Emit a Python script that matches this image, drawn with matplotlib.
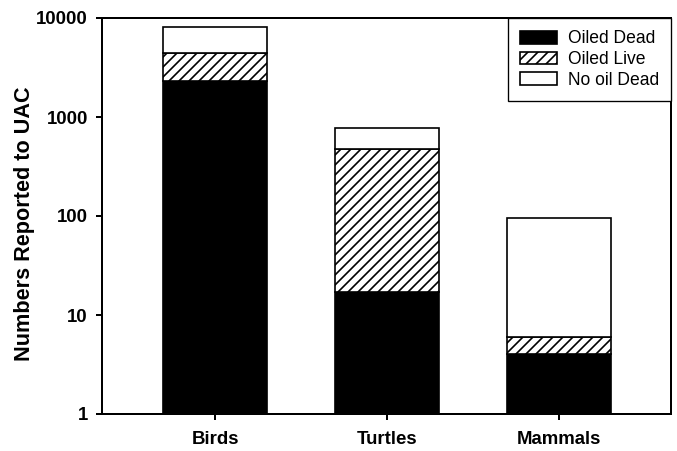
import matplotlib
matplotlib.use("Agg")
import matplotlib.pyplot as plt
from matplotlib.ticker import FixedLocator, FixedFormatter, NullLocator

groups = ["Birds", "Turtles", "Mammals"]
oiled_dead = [2300, 17, 4]
oiled_live = [2100, 455, 2]
no_oil_dead = [3800, 300, 90]
series_names = ["Oiled Dead", "Oiled Live", "No oil Dead"]
yticks = [1, 10, 100, 1000, 10000]
ytick_labels = ["1", "10", "100", "1000", "10000"]


def main():
    plt.rcParams['font.family'] = ['Liberation Sans', 'DejaVu Sans']
    plt.rcParams['hatch.linewidth'] = 1.0

    fig = plt.figure(figsize=(677 / 120, 451 / 120), dpi=120)
    ax = fig.add_axes([102 / 677, 37 / 451, 569 / 677, 396 / 451])

    x = list(range(len(groups)))
    w = 0.605
    bottom2 = [a + b for a, b in zip(oiled_dead, oiled_live)]
    ax.bar(x, oiled_dead, w, color="black", edgecolor="black", linewidth=1.0,
           label=series_names[0])
    ax.bar(x, oiled_live, w, bottom=oiled_dead, color="white", edgecolor="black",
           hatch="////", linewidth=1.0, label=series_names[1])
    ax.bar(x, no_oil_dead, w, bottom=bottom2, color="white", edgecolor="black",
           linewidth=1.0, label=series_names[2])

    ax.set_yscale("log")
    ax.set_ylim(1, 10000)
    ax.set_xlim(-0.657, 2.651)
    ax.yaxis.set_major_locator(FixedLocator(yticks))
    ax.yaxis.set_major_formatter(FixedFormatter(ytick_labels))
    ax.yaxis.set_minor_locator(NullLocator())
    ax.set_xticks(x)
    ax.set_xticklabels(groups)

    for s in ax.spines.values():
        s.set_linewidth(1.2)
    ax.tick_params(axis="both", direction="out", length=3.5, width=1.2,
                   labelsize=11.2)
    ax.tick_params(axis="x", pad=7)
    ax.tick_params(axis="y", pad=5)
    for lab in ax.get_xticklabels() + ax.get_yticklabels():
        lab.set_fontweight("bold")

    ax.set_ylabel("Numbers Reported to UAC", fontsize=13, fontweight="bold")
    ax.yaxis.set_label_coords(-0.118, 0.48)

    leg = ax.legend(loc="upper right", borderaxespad=0, fancybox=False,
                    edgecolor="black", framealpha=1, fontsize=10.5,
                    handlelength=2.1, handleheight=0.75, labelspacing=0.22,
                    handletextpad=0.6, borderpad=0.7)
    leg.get_frame().set_linewidth(0.8)

    fig.savefig("out.png", dpi=120)


if __name__ == "__main__":
    main()
